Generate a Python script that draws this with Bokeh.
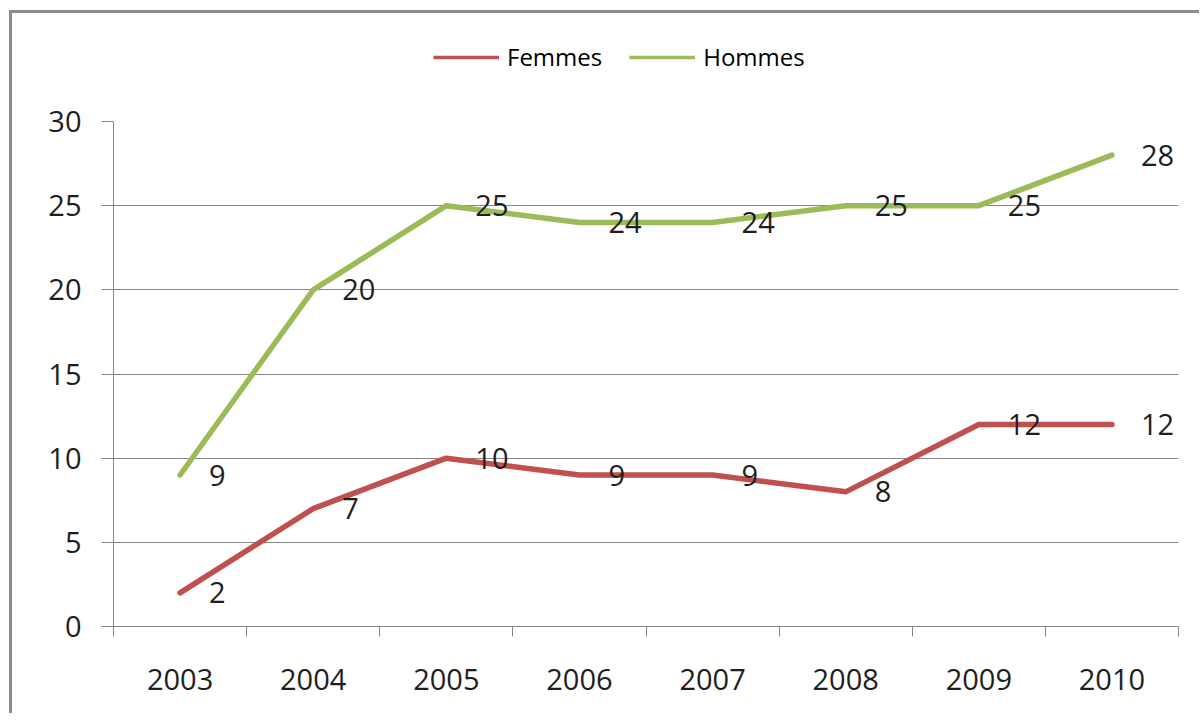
from bokeh.plotting import figure
from bokeh.layouts import column
from bokeh.models import (Range1d, FixedTicker, Legend, LegendItem, LabelSet,
                          ColumnDataSource)
from bokeh.embed import file_html
from bokeh.resources import INLINE
from bokeh.core.properties import value

years = ["2003", "2004", "2005", "2006", "2007", "2008", "2009", "2010"]
femmes = [2, 7, 10, 9, 9, 8, 12, 12]
hommes = [9, 20, 25, 24, 24, 25, 25, 28]
y_ticks = [0, 5, 10, 15, 20, 25, 30]
series_names = ["Femmes", "Hommes"]

RED = "#C0504D"
GREEN = "#9BBB59"
GRAY = "#868686"
TXT = "#1e1e1e"
FONT = "Open Sans"
FS = "29px"
W = 1187
NAN = float("nan")

xc = [i + 0.5 for i in range(len(years))]

# ---- legend strip (top) ----
top = figure(width=W, height=87, output_backend="svg", toolbar_location=None,
             x_range=Range1d(0, 1), y_range=Range1d(0, 1),
             x_axis_type=None, y_axis_type=None,
             min_border_left=0, min_border_right=0, min_border_top=0,
             min_border_bottom=0)
top.outline_line_color = None
top.xgrid.grid_line_color = None
top.ygrid.grid_line_color = None
lf = top.line(x=[NAN], y=[NAN], color=RED, line_width=3.5)
lh = top.line(x=[NAN], y=[NAN], color=GREEN, line_width=3.5)
legend = Legend(items=[LegendItem(label=series_names[0], renderers=[lf]),
                       LegendItem(label=series_names[1], renderers=[lh])],
                orientation="horizontal", location=(320, 27),
                glyph_width=66, glyph_height=20, label_standoff=8, spacing=27,
                label_text_font=FONT, label_text_font_size="24px",
                label_text_color="black", border_line_color=None,
                background_fill_alpha=0, padding=0, margin=0)
top.add_layout(legend, "center")

# ---- main chart ----
p = figure(width=W, height=613, output_backend="svg", toolbar_location=None,
           x_range=Range1d(0, len(years)), y_range=Range1d(0, 30),
           min_border_left=101, min_border_right=21, min_border_top=21,
           min_border_bottom=87)
p.outline_line_color = None

src_f = ColumnDataSource(dict(x=xc, y=femmes, t=[str(v) for v in femmes]))
src_h = ColumnDataSource(dict(x=xc, y=hommes, t=[str(v) for v in hommes]))

rf = p.line("x", "y", source=src_f, color=RED, line_width=5.5,
            line_cap="round", line_join="round")
rh = p.line("x", "y", source=src_h, color=GREEN, line_width=5.5,
            line_cap="round", line_join="round")

for src in (src_f, src_h):
    p.add_layout(LabelSet(x="x", y="y", text="t", source=src, x_offset=29,
                          text_align="left", text_baseline="middle",
                          text_font=value(FONT), text_font_size=FS,
                          text_color=TXT))

p.xaxis.ticker = FixedTicker(ticks=xc, minor_ticks=list(range(len(years) + 1)))
p.xaxis.major_label_overrides = {x: y for x, y in zip(xc, years)}
p.xaxis.major_tick_line_color = None
p.xaxis.minor_tick_line_color = GRAY
p.xaxis.minor_tick_out = 10
p.xaxis.minor_tick_in = 0
p.xaxis.axis_line_color = GRAY
p.xaxis.major_label_standoff = 32
p.xaxis.major_label_text_font = FONT
p.xaxis.major_label_text_font_size = FS
p.xaxis.major_label_text_color = TXT

p.yaxis.ticker = FixedTicker(ticks=y_ticks)
p.yaxis.minor_tick_line_color = None
p.yaxis.major_tick_line_color = GRAY
p.yaxis.major_tick_out = 12
p.yaxis.major_tick_in = 0
p.yaxis.axis_line_color = GRAY
p.yaxis.major_label_standoff = 20
p.yaxis.major_label_text_font = FONT
p.yaxis.major_label_text_font_size = FS
p.yaxis.major_label_text_color = TXT

p.xgrid.grid_line_color = None
p.ygrid.grid_line_color = GRAY
p.ygrid.ticker = FixedTicker(ticks=y_ticks)

layout = column(top, p, spacing=0, margin=(10, 0, 0, 9),
                styles={"border-left": "3px solid #8c8c8c",
                        "border-top": "3px solid #8c8c8c"})

open("out.html", "w").write(file_html(layout, INLINE))
